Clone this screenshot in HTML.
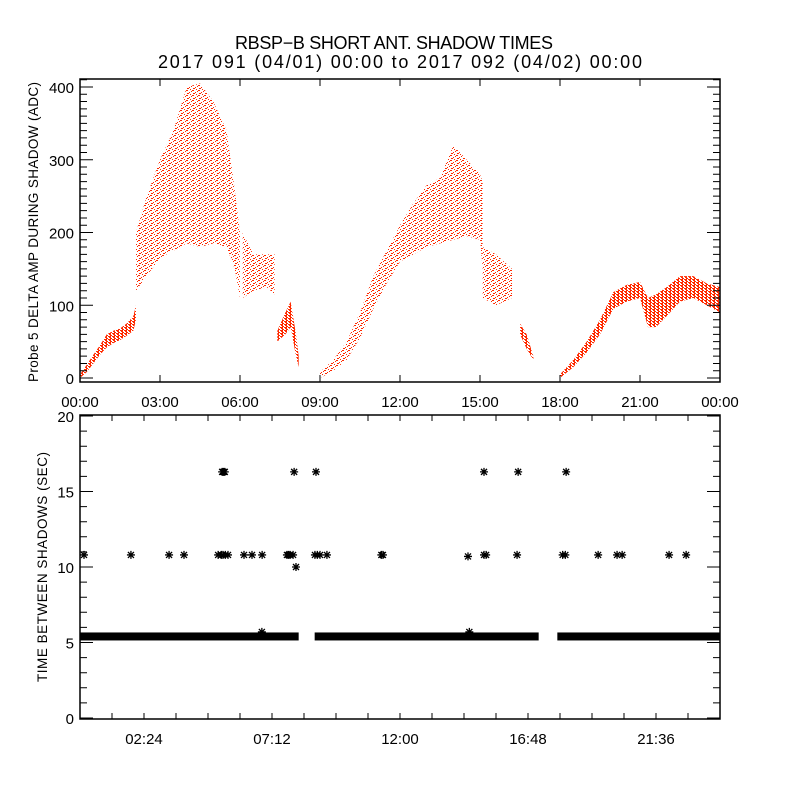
<!DOCTYPE html>
<html><head><meta charset="utf-8"><style>
body{margin:0;background:#fff}
svg{display:block;font-family:"Liberation Sans",sans-serif}
</style></head><body>
<svg id="chart" width="800" height="800" viewBox="0 0 800 800">
<defs>
<pattern id="speckle" width="6" height="5" patternUnits="userSpaceOnUse" shape-rendering="crispEdges">
<rect x="0" y="0" width="2" height="1" fill="#ff2a00"/><rect x="3" y="2" width="1" height="1" fill="#ff2a00"/><rect x="5" y="1" width="1" height="1" fill="#ff2a00"/><rect x="1" y="3" width="2" height="1" fill="#ff2a00"/><rect x="4" y="4" width="1" height="1" fill="#ff2a00"/>
</pattern>
<pattern id="dense" width="4" height="3" patternUnits="userSpaceOnUse" shape-rendering="crispEdges">
<rect x="0" y="0" width="3" height="1" fill="#ff2a00"/><rect x="1" y="1" width="2" height="1" fill="#ff2a00"/><rect x="2" y="2" width="2" height="1" fill="#ff2a00"/>
</pattern>
</defs>
<text x="394" y="49" font-size="18" text-anchor="middle" textLength="318">RBSP−B SHORT ANT. SHADOW TIMES</text>
<text x="400" y="68" font-size="18" text-anchor="middle" textLength="484">2017 091 (04/01) 00:00 to 2017 092 (04/02) 00:00</text>
<g id="topPanel"></g>
<g id="botPanel"></g>
</svg>
<script>
// ---- top panel data: amplitude envelope segments (hours, lower ADC, upper ADC)
const segTimes = [
 [0,0.25,0.5,0.75,1.0,1.25,1.5,1.75,2.0,2.1],
 [2.1,2.5,3.0,3.5,4.0,4.5,5.0,5.5,5.8,6.0],
 [6.1,6.5,7.0,7.3],
 [7.4,7.7,7.9,8.1,8.2],
 [9.0,9.5,10.0,10.5,11.0,11.5,12.0,12.5,13.0,13.5,14.0,14.5,15.0,15.1],
 [15.1,15.6,16.2],
 [16.5,16.75,17.0],
 [18.0,18.5,19.0,19.5,20.0,20.5,21.0,21.3,21.6,22.0,22.5,23.0,23.5,24.0]
];
const segLow = [
 [0,8,20,32,42,48,52,58,65,80],
 [120,140,165,175,185,180,185,180,150,110],
 [110,120,125,115],
 [50,60,70,30,15],
 [0,10,25,55,95,130,160,170,180,185,190,195,190,150],
 [110,100,110],
 [60,40,25],
 [0,15,35,60,95,105,110,70,70,85,105,110,100,90]
];
const segHigh = [
 [5,18,32,45,60,65,68,75,85,100],
 [200,250,300,340,400,405,380,340,260,200],
 [200,170,170,170],
 [65,90,105,60,30],
 [8,25,50,90,140,175,210,240,265,275,320,300,280,270],
 [180,170,150],
 [75,60,30],
 [5,25,50,80,118,128,132,110,115,125,140,140,130,125]
];
const segDense = [true,false,false,true,false,false,true,true];
const topYTicks = [0,100,200,300,400];
const topXLabels = ["00:00","03:00","06:00","09:00","12:00","15:00","18:00","21:00","00:00"];

// ---- bottom panel data
const bandStart = [0, 8.8, 17.9];
const bandEnd = [8.2, 17.2, 24.0];
const bandValue = 5.4;
const outlierTimes = [0.15,1.91,3.34,3.9,5.18,5.3,5.36,5.45,5.55,6.15,6.45,6.83,7.76,7.82,7.88,7.99,8.81,8.9,9.0,9.26,11.3,11.36,14.55,15.15,15.23,16.39,18.1,18.2,19.43,20.14,20.33,22.09,22.73,
  5.33,5.38,5.43,8.03,8.85,15.15,16.43,18.23, 8.1, 6.82,14.6];
const outlierValues = [10.8,10.8,10.8,10.8,10.8,10.8,10.8,10.8,10.8,10.8,10.8,10.8,10.8,10.8,10.8,10.8,10.8,10.8,10.8,10.8,10.8,10.8,10.7,10.8,10.8,10.8,10.8,10.8,10.8,10.8,10.8,10.8,10.8,
  16.3,16.3,16.3,16.3,16.3,16.3,16.3,16.3, 10.0, 5.7,5.7];
const botYTicks = [0,5,10,15,20];
const botXLabels = ["02:24","07:12","12:00","16:48","21:36"];

const NS="http://www.w3.org/2000/svg";
function mk(tag,attrs,parent){const e=document.createElementNS(NS,tag);for(const k in attrs)e.setAttribute(k,attrs[k]);parent.appendChild(e);return e;}
const X0=80,X1=720;
const xs=h=>X0+h/24*(X1-X0);
const yTop=v=>378-v*0.7275;
const yBot=v=>718-v*15.1;

// top panel
const topG=document.getElementById('topPanel');
for(let s=0;s<segTimes.length;s++){
  const t=segTimes[s];let pts=[];
  for(let i=0;i<t.length;i++)pts.push(xs(t[i])+","+yTop(segHigh[s][i]));
  for(let i=t.length-1;i>=0;i--)pts.push(xs(t[i])+","+yTop(segLow[s][i]));
  const p=mk('polygon',{points:pts.join(" "),fill:segDense[s]?"url(#dense)":"url(#speckle)"},topG);
  
  
}
const tf=mk('rect',{x:X0,y:79,width:X1-X0,height:303,fill:"none",stroke:"#000","stroke-width":1.5},topG);


let tk="";
for(let v=0;v<=410;v+=10){const y=yTop(v);const L=(v%100===0)?13:7;tk+=`M${X0},${y}h${L}M${X1},${y}h${-L}`;}
for(let h=0;h<=24;h+=3){const x=xs(h);tk+=`M${x},382v-7M${x},79v7`;}
const tp=mk('path',{d:tk,stroke:"#000","stroke-width":1,fill:"none"},topG);


topYTicks.forEach(v=>{const e=mk('text',{x:74,y:yTop(v)+6,"font-size":15,"text-anchor":"end"},topG);e.textContent=v;
 
 });
topXLabels.forEach((l,i)=>{const e=mk('text',{x:xs(i*3),y:407,"font-size":15,"text-anchor":"middle"},topG);e.textContent=l;
 
 });
const ty=mk('text',{x:0,y:0,"font-size":13.5,"text-anchor":"middle",transform:"translate(38,232) rotate(-90)",textLength:300},topG);
ty.textContent="Probe 5 DELTA AMP DURING SHADOW (ADC)";



// bottom panel
const botG=document.getElementById('botPanel');
for(let i=0;i<bandStart.length;i++){
  const r=mk('rect',{x:xs(bandStart[i]),y:yBot(bandValue)-4,width:xs(bandEnd[i])-xs(bandStart[i]),height:8,fill:"#000"},botG);
  
  
}
function star(x,y){return `M${x-4},${y}h8M${x},${y-4}v8M${x-3},${y-3}l6,6M${x-3},${y+3}l6,-6`;}
let sd="";
for(let i=0;i<outlierTimes.length;i++)sd+=star(xs(outlierTimes[i]),yBot(outlierValues[i]));
const sp=mk('path',{d:sd,stroke:"#000","stroke-width":1.3,fill:"none"},botG);


const bf=mk('rect',{x:X0,y:415,width:X1-X0,height:304,fill:"none",stroke:"#000","stroke-width":1.5},botG);


let bk="";
for(let v=0;v<=20;v++){const y=yBot(v);const L=(v%5===0)?13:7;bk+=`M${X0},${y}h${L}M${X1},${y}h${-L}`;}
for(let h=1.2;h<24;h+=1.2){const x=xs(h);bk+=`M${x},719v-6M${x},415v6`;}
const bp=mk('path',{d:bk,stroke:"#000","stroke-width":1,fill:"none"},botG);


botYTicks.forEach(v=>{const e=mk('text',{x:74,y:yBot(v)+6,"font-size":15,"text-anchor":"end"},botG);e.textContent=v;
 
 });
botXLabels.forEach((l,i)=>{const e=mk('text',{x:xs(2.4+i*4.8),y:744,"font-size":15,"text-anchor":"middle"},botG);e.textContent=l;
 
 });
const by=mk('text',{x:0,y:0,"font-size":13.5,"text-anchor":"middle",transform:"translate(47,567) rotate(-90)",textLength:230},botG);
by.textContent="TIME BETWEEN SHADOWS (SEC)";


</script>
</body></html>
